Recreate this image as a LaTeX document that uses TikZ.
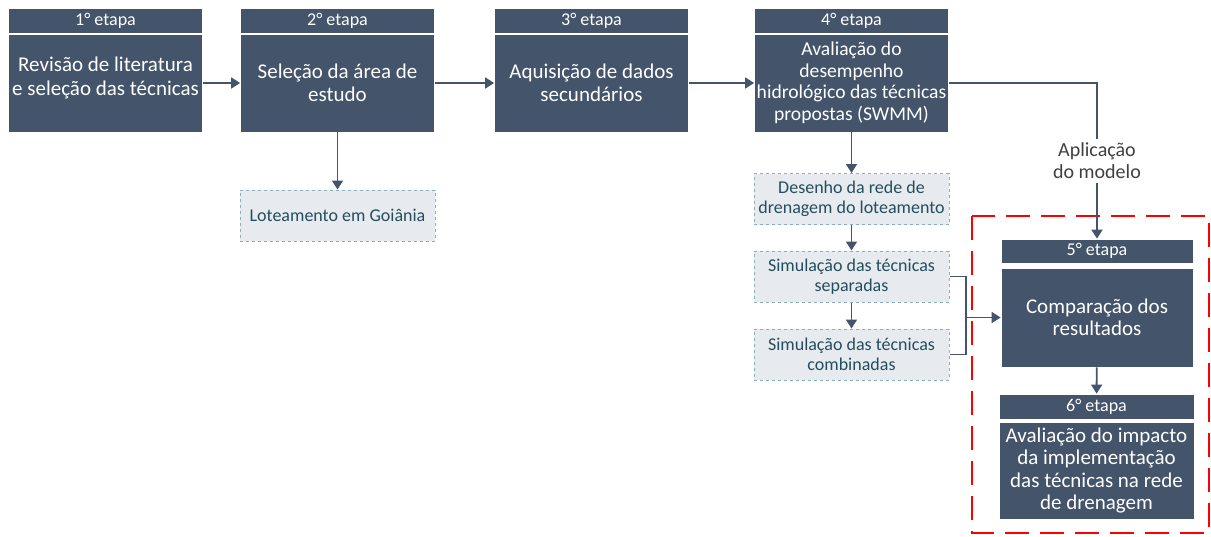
\documentclass[tikz,border=0pt]{standalone}
\usepackage{fontspec}
\setmainfont{Carlito}
\usetikzlibrary{arrows.meta}

\definecolor{etapa}{HTML}{44546A}
\definecolor{tracejado}{HTML}{E7EBEF}
\definecolor{bordatrac}{HTML}{8CAFBF}
\definecolor{textotrac}{HTML}{234E5E}
\definecolor{vermelho}{HTML}{FF0000}

\begin{document}
\begin{tikzpicture}[x=1pt, y=-1pt,
    cabec/.style={fill=etapa, draw=white, line width=0.8pt, text=white,
      minimum width=194pt, minimum height=25pt, inner sep=0pt,
      font=\fontsize{18}{19}\selectfont},
    corpo/.style={fill=etapa, draw=white, line width=0.8pt, text=white, align=center,
      minimum width=194pt, inner sep=0pt,
      font=\fontsize{21}{23.5}\selectfont},
    trac/.style={fill=tracejado, draw=bordatrac, dashed, line width=1pt, text=textotrac,
      align=center, minimum width=195pt, minimum height=51pt, inner sep=0pt,
      font=\fontsize{18}{20}\selectfont},
    seta/.style={draw=etapa, line width=1.8pt,
      -{Triangle[length=9pt, width=11pt]}},
    linha/.style={draw=etapa, line width=1.8pt}]

    \useasboundingbox (0,0) rectangle (1211,536);

    % etapas 1 a 4
    \node[cabec] (h1) at (105.5,20.5) {1° etapa};
    \node[corpo, minimum height=98pt] (b1) at (105.5,83)
      {Revisão de literatura\\e seleção das técnicas\\[-10pt]};

    \node[cabec] (h2) at (337.5,20.5) {2° etapa};
    \node[corpo, minimum height=98pt] (b2) at (337.5,83)
      {Seleção da área de\\estudo};

    \node[cabec] (h3) at (591.5,20.5) {3° etapa};
    \node[corpo, minimum height=98pt] (b3) at (591.5,83)
      {Aquisição de dados\\secundários};

    \node[cabec] (h4) at (851.5,20.5) {4° etapa};
    \node[corpo, minimum height=98pt, font=\fontsize{19.6}{21.5}\selectfont] (b4) at (851.5,83)
      {Avaliação do\\desempenho\\hidrológico das técnicas\\propostas (SWMM)};

    % caixas tracejadas
    \node[trac] (lot) at (337.5,215.5) {Loteamento em Goiânia};
    \node[trac] (des) at (851.5,199) {Desenho da rede de\\drenagem do loteamento};
    \node[trac] (sep) at (851.5,276.5) {Simulação das técnicas\\separadas};
    \node[trac] (comb) at (851.5,354.5) {Simulação das técnicas\\combinadas};

    % etapas 5 e 6
    \draw[vermelho, line width=2.2pt, dash pattern=on 24pt off 11pt]
      (972,216) rectangle (1209,533);

    \node[cabec, minimum width=192pt, minimum height=24pt] (h5) at (1097,251) {5° etapa};
    \node[corpo, minimum width=192pt, minimum height=99pt, font=\fontsize{21}{21.5}\selectfont] (b5) at (1097,317.5)
      {Comparação dos\\resultados};

    \node[cabec, minimum width=195pt] (h6) at (1096.5,406.5) {6° etapa};
    \node[corpo, minimum width=195pt, minimum height=97pt, font=\fontsize{21}{22.5}\selectfont] (b6) at (1096.5,470.5)
      {Avaliação do impacto\\da implementação\\das técnicas na rede\\de drenagem};

    \node[text=black!75, align=center, font=\fontsize{20}{22}\selectfont] (apl) at (1097,161)
      {Aplicação\\do modelo};

    % ligações
    \draw[seta] (b1) -- (b2);
    \draw[seta] (b2) -- (b3);
    \draw[seta] (b3) -- (b4);
    \draw[seta] (b2) -- (lot);
    \draw[seta] (b4) -- (des);
    \draw[seta] (des) -- (sep);
    \draw[seta] (sep) -- (comb);

    \draw[linha] (b4.east) -| (apl.north);
    \draw[seta] (apl) -- (h5);

    \coordinate (junta) at (966,317.5);
    \draw[linha] (sep.east) -| (junta) |- (comb.east);
    \draw[seta] (junta) -- (b5.west);
    \draw[seta] (b5) -- (h6);

  \end{tikzpicture}
\end{document}
